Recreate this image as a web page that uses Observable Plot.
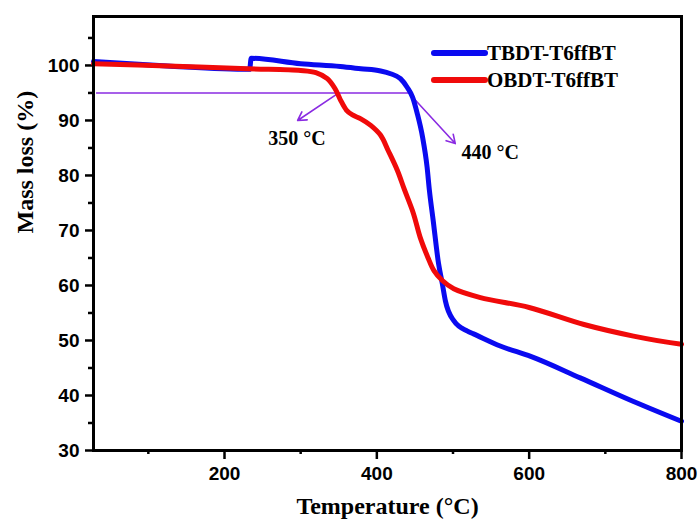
<!DOCTYPE html>
<html>
<head>
<meta charset="utf-8">
<script src="https://cdn.jsdelivr.net/npm/d3@7"></script>
<script src="https://cdn.jsdelivr.net/npm/@observablehq/plot@0.6"></script>
<style>
  html, body { margin: 0; padding: 0; background: #fff; }
</style>
</head>
<body>
<div id="chart"></div>
<script>
// ---- data ----
const seriesNames = ["TBDT-T6ffBT", "OBDT-T6ffBT"];
const seriesColors = ["#0a0af0", "#f00a0a"];

const tbdtTemp = [28, 125, 233, 235, 300, 352, 379, 405, 418, 431, 440, 447, 453, 460, 466, 469, 474, 481, 486, 490, 501, 519, 527, 562, 602, 667, 737, 800];
const tbdtMass = [100.7, 99.9, 99.3, 101.3, 100.3, 99.8, 99.4, 99.0, 98.5, 97.6, 96.0, 94.2, 91.3, 87.0, 81.5, 77.3, 71.8, 64.0, 60.3, 57.2, 53.6, 51.7, 51.2, 49.0, 47.1, 43.2, 38.9, 35.3];

const obdtTemp = [28, 125, 230, 300, 320, 335, 345, 352, 360, 368, 379, 392, 405, 415, 427, 436, 448, 457, 467, 475, 486, 501, 536, 600, 672, 737, 800];
const obdtMass = [100.3, 99.9, 99.4, 99.1, 98.7, 97.6, 95.8, 93.8, 91.9, 91.0, 90.3, 89.1, 87.3, 84.5, 80.9, 77.5, 73.1, 68.7, 65.1, 62.7, 60.9, 59.4, 57.8, 56.0, 52.9, 50.8, 49.3];

const xMajorTicks = [200, 400, 600, 800];
const xMinorTicks = [100, 300, 500, 700];
const yMajorTicks = [30, 40, 50, 60, 70, 80, 90, 100];
const yMinorTicks = [35, 45, 55, 65, 75, 85, 95, 105];

// 5% mass-loss threshold and onset temperatures
const thresholdMass = 95;
const thresholdFrom = 32;
const thresholdTo = 442;
const onsetTemps = [350, 442];
const onsetLabels = ["350 °C", "440 °C"];
const arrowEndTemps = [296, 503];
const arrowEndMass = [90, 85.8];
const labelTemps = [295, 549];
const labelMass = [86.7, 84.2];

const xTitle = "Temperature (°C)";
const yTitle = "Mass loss (%)";

// ---- build tables ----
const tbdt = tbdtTemp.map((t, i) => ({t, m: tbdtMass[i]}));
const obdt = obdtTemp.map((t, i) => ({t, m: obdtMass[i]}));
const arrows = onsetTemps.map((t, i) => ({x1: t, y1: thresholdMass, x2: arrowEndTemps[i], y2: arrowEndMass[i]}));
const labels = onsetLabels.map((s, i) => ({s, x: labelTemps[i], y: labelMass[i]}));

const purple = "#8a2be2";
const serif = "'Liberation Serif', 'Times New Roman', serif";
const sans = "'Liberation Sans', Arial, sans-serif";

const chart = Plot.plot({
  width: 700,
  height: 528,
  marginLeft: 93,
  marginRight: 19,
  marginTop: 16,
  marginBottom: 78,
  x: {domain: [28, 800]},
  y: {domain: [30, 108.9]},
  style: {background: "white", fontFamily: sans, color: "black"},
  marks: [
    Plot.axisX({ticks: xMajorTicks, tickSize: 9, tickPadding: 7, fontSize: 19, fontWeight: "bold", strokeWidth: 2.5, label: null}),
    Plot.axisX({ticks: xMinorTicks, tickSize: 4, text: null, strokeWidth: 2.5, label: null}),
    Plot.axisY({ticks: yMajorTicks, tickSize: 8, tickPadding: 6, fontSize: 19, fontWeight: "bold", strokeWidth: 2.5, label: null}),
    Plot.axisY({ticks: yMinorTicks, tickSize: 5, text: null, strokeWidth: 2.5, label: null}),
    Plot.ruleY([thresholdMass], {x1: thresholdFrom, x2: thresholdTo, stroke: purple, strokeWidth: 1.6}),
    Plot.arrow(arrows, {x1: "x1", y1: "y1", x2: "x2", y2: "y2", stroke: purple, strokeWidth: 1.6, headLength: 9}),
    Plot.text(labels, {x: "x", y: "y", text: "s", fontFamily: serif, fontWeight: "bold", fontSize: 20, fill: "black"}),
    Plot.line(tbdt, {x: "t", y: "m", stroke: seriesColors[0], strokeWidth: 5, curve: "monotone-x"}),
    Plot.line(obdt, {x: "t", y: "m", stroke: seriesColors[1], strokeWidth: 5, curve: "catmull-rom"}),
    Plot.frame({stroke: "black", strokeWidth: 3}),
    Plot.text([xTitle], {frameAnchor: "bottom", dy: 63, fontFamily: serif, fontWeight: "bold", fontSize: 24, fill: "black"}),
    Plot.text([yTitle], {frameAnchor: "left", dx: -68, rotate: -90, fontFamily: serif, fontWeight: "bold", fontSize: 24, fill: "black"})
  ]
});

// legend inside the plot, upper right
const svg = d3.select(chart);
const lg = svg.append("g");
seriesNames.forEach((name, i) => {
  const yy = 53 + i * 27;
  lg.append("line").attr("x1", 434).attr("x2", 485).attr("y1", yy).attr("y2", yy)
    .attr("stroke", seriesColors[i]).attr("stroke-width", 6).attr("stroke-linecap", "round");
  lg.append("text").attr("x", 487).attr("y", yy).attr("dy", "0.35em")
    .attr("text-anchor", "start")
    .attr("font-family", serif).attr("font-weight", "bold").attr("font-size", 21)
    .attr("fill", "black").text(name);
});

document.getElementById("chart").appendChild(chart);
</script>
</body>
</html>
